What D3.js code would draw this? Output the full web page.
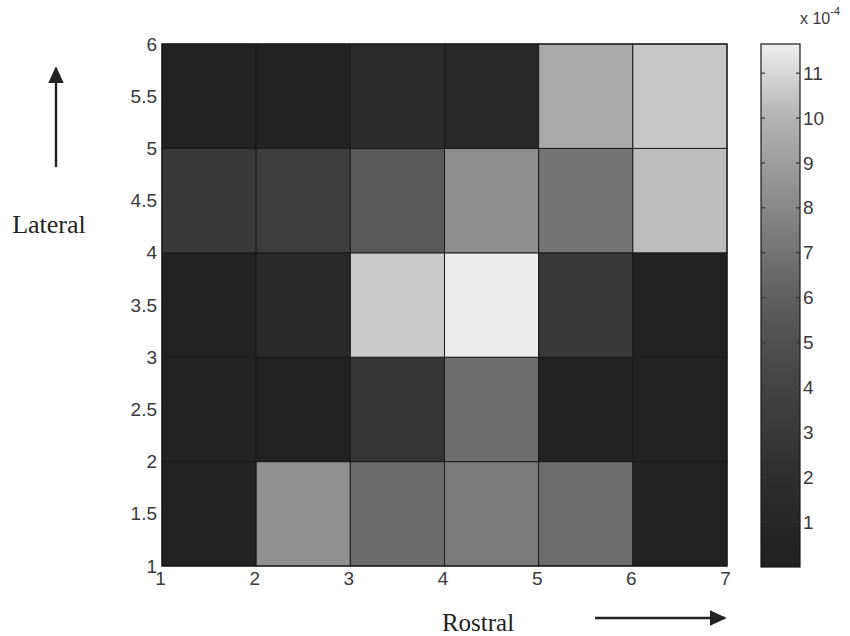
<!DOCTYPE html>
<html>
<head>
<meta charset="utf-8">
<script src="https://cdn.jsdelivr.net/npm/d3@7"></script>
<style>
  html, body { margin: 0; padding: 0; background: #ffffff; }
  svg { display: block; }
</style>
</head>
<body>
<svg id="chart" width="850" height="636"></svg>
<script>
// ---- data (values in units of 1e-4) ----
const xBins = [1, 2, 3, 4, 5, 6];          // left edge of each column (Rostral)
const yBins = [1, 2, 3, 4, 5];             // bottom edge of each row (Lateral)
// rows listed from bottom (y 1-2) to top (y 5-6), columns x 1..6
const intensity = [
  [0.3, 8.4, 6.6, 7.3, 6.7, 0.3],
  [0.3, 0.2, 2.6, 6.7, 0.3, 0.3],
  [0.3, 1.3, 10.7, 11.6, 3.0, 0.3],
  [3.0, 3.4, 5.6, 8.3, 7.0, 10.3],
  [0.3, 0.3, 1.7, 1.1, 9.6, 10.6]
];
const xTicks = [1, 2, 3, 4, 5, 6, 7];
const yTicks = [1, 1.5, 2, 2.5, 3, 3.5, 4, 4.5, 5, 5.5, 6];
const cbTicks = [1, 2, 3, 4, 5, 6, 7, 8, 9, 10, 11];
const cbMax = 11.65;
const xLabel = "Rostral";
const yLabel = "Lateral";

// ---- layout ----
const svg = d3.select("#chart");
const plot = { left: 162, right: 727, top: 44, bottom: 566 };
const cb = { left: 761, right: 800, top: 44, bottom: 567 };

const x = d3.scaleLinear().domain([1, 7]).range([plot.left, plot.right]);
const y = d3.scaleLinear().domain([1, 6]).range([plot.bottom, plot.top]);

// printed gray colormap
const color = d3.scaleLinear()
  .domain([0, 2, 4, 6, 8, 10, cbMax])
  .range(["#202020", "#2e2e2e", "#434343", "#5f5f5f", "#888888", "#b2b2b2", "#eeeeee"]);

// ---- cells ----
const cells = [];
yBins.forEach((yb, r) => xBins.forEach((xb, c) => cells.push({ x0: xb, y0: yb, v: intensity[r][c] })));

svg.append("g").selectAll("rect").data(cells).join("rect")
  .attr("x", d => x(d.x0))
  .attr("y", d => y(d.y0 + 1))
  .attr("width", d => x(d.x0 + 1) - x(d.x0))
  .attr("height", d => y(d.y0) - y(d.y0 + 1))
  .attr("fill", d => color(d.v))
  .attr("stroke", "#1a1a1a")
  .attr("stroke-width", 1);

// frame
svg.append("rect")
  .attr("x", plot.left).attr("y", plot.top)
  .attr("width", plot.right - plot.left).attr("height", plot.bottom - plot.top)
  .attr("fill", "none").attr("stroke", "#1a1a1a").attr("stroke-width", 1.2);

// ---- axes ----
const tickFont = "'Liberation Sans Narrow', 'Liberation Sans', Arial, sans-serif";
const tickSize = 19;
const xAxis = d3.axisBottom(x).tickValues(xTicks).tickFormat(d3.format("d")).tickSize(0).tickPadding(6);
const gx = svg.append("g").attr("transform", `translate(0,${plot.bottom})`).call(xAxis);
gx.select(".domain").remove();
gx.selectAll("text").attr("font-family", tickFont).attr("font-size", tickSize).attr("fill", "#3a3a3a")
  .attr("dx", -2);

const yAxis = d3.axisLeft(y).tickValues(yTicks).tickFormat(d => d3.format("~g")(d)).tickSize(0).tickPadding(5);
const gy = svg.append("g").attr("transform", `translate(${plot.left},0)`).call(yAxis);
gy.select(".domain").remove();
gy.selectAll("text").attr("font-family", tickFont).attr("font-size", tickSize).attr("fill", "#3a3a3a");

// ---- colorbar ----
const cbY = d3.scaleLinear().domain([0, cbMax]).range([cb.bottom, cb.top]);
const defs = svg.append("defs");
const grad = defs.append("linearGradient").attr("id", "cbgrad")
  .attr("x1", 0).attr("y1", 1).attr("x2", 0).attr("y2", 0);
d3.range(0, 41).forEach(i => {
  const v = cbMax * i / 40;
  grad.append("stop").attr("offset", i / 40).attr("stop-color", color(v));
});
svg.append("rect")
  .attr("x", cb.left).attr("y", cb.top)
  .attr("width", cb.right - cb.left).attr("height", cb.bottom - cb.top)
  .attr("fill", "url(#cbgrad)").attr("stroke", "#1a1a1a").attr("stroke-width", 1.2);

const cbAxis = d3.axisRight(cbY).tickValues(cbTicks).tickFormat(d3.format("d")).tickSize(0).tickPadding(3);
const gc = svg.append("g").attr("transform", `translate(${cb.right},0)`).call(cbAxis);
gc.select(".domain").remove();
gc.selectAll("text").attr("font-family", tickFont).attr("font-size", tickSize).attr("fill", "#3a3a3a");
// inner tick marks on both edges
const tm = svg.append("g").attr("stroke", "#333").attr("stroke-width", 1.2);
cbTicks.forEach(t => {
  tm.append("line").attr("x1", cb.left).attr("x2", cb.left + 4).attr("y1", cbY(t)).attr("y2", cbY(t));
  tm.append("line").attr("x1", cb.right - 4).attr("x2", cb.right).attr("y1", cbY(t)).attr("y2", cbY(t));
});

// exponent
const ex = svg.append("text").attr("x", 800).attr("y", 24)
  .attr("font-family", tickFont).attr("font-size", 16).attr("fill", "#3a3a3a");
ex.append("tspan").text("x 10");
ex.append("tspan").attr("dy", -9).attr("font-size", 11).text("-4");

// ---- direction labels & arrows ----
const serif = "'Liberation Serif', 'Times New Roman', serif";
defs.append("marker").attr("id", "arrowhead")
  .attr("viewBox", "0 0 10 10").attr("refX", 9).attr("refY", 5)
  .attr("markerWidth", 7).attr("markerHeight", 6.5).attr("markerUnits", "strokeWidth")
  .attr("orient", "auto")
  .attr("preserveAspectRatio", "none")
  .append("path").attr("d", "M0,0 L10,5 L0,10 Z").attr("fill", "#222");

svg.append("line").attr("x1", 56).attr("y1", 167).attr("x2", 56).attr("y2", 68)
  .attr("stroke", "#222").attr("stroke-width", 2.4).attr("marker-end", "url(#arrowhead)");
svg.append("text").attr("x", 49).attr("y", 233).attr("text-anchor", "middle")
  .attr("font-family", serif).attr("font-size", 26).attr("fill", "#222").text(yLabel);

svg.append("line").attr("x1", 595).attr("y1", 618).attr("x2", 725).attr("y2", 618)
  .attr("stroke", "#222").attr("stroke-width", 2.4).attr("marker-end", "url(#arrowhead)");
svg.append("text").attr("x", 478).attr("y", 631).attr("text-anchor", "middle")
  .attr("font-family", serif).attr("font-size", 25).attr("fill", "#222").text(xLabel);
</script>
</body>
</html>
